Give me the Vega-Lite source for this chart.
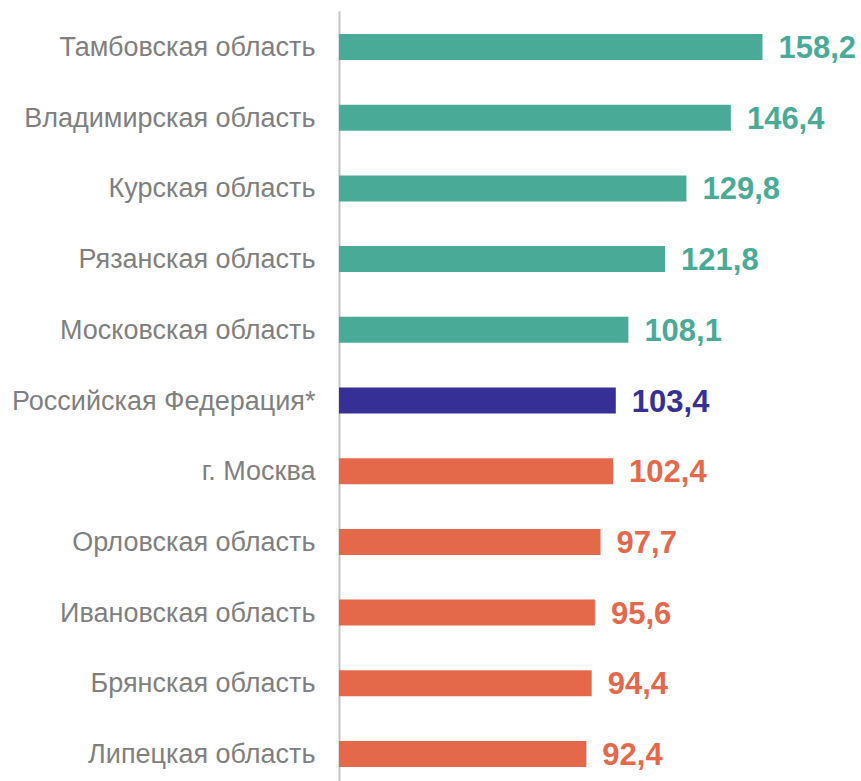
{
  "$schema": "https://vega.github.io/schema/vega-lite/v6.json",
  "autosize": "none",
  "padding": {"left": 339, "top": 11, "right": 0, "bottom": 0},
  "width": 522,
  "height": 779,
  "background": "white",
  "config": {"view": {"stroke": null}, "font": "Liberation Sans"},
  "data": {"values": [
    {"region": "Тамбовская область", "value": 158.2, "label": "158,2", "group": "up"},
    {"region": "Владимирская область", "value": 146.4, "label": "146,4", "group": "up"},
    {"region": "Курская область", "value": 129.8, "label": "129,8", "group": "up"},
    {"region": "Рязанская область", "value": 121.8, "label": "121,8", "group": "up"},
    {"region": "Московская область", "value": 108.1, "label": "108,1", "group": "up"},
    {"region": "Российская Федерация*", "value": 103.4, "label": "103,4", "group": "rf"},
    {"region": "г. Москва", "value": 102.4, "label": "102,4", "group": "down"},
    {"region": "Орловская область", "value": 97.7, "label": "97,7", "group": "down"},
    {"region": "Ивановская область", "value": 95.6, "label": "95,6", "group": "down"},
    {"region": "Брянская область", "value": 94.4, "label": "94,4", "group": "down"},
    {"region": "Липецкая область", "value": 92.4, "label": "92,4", "group": "down"}
  ]},
  "encoding": {
    "y": {
      "field": "region", "type": "nominal", "sort": null,
      "scale": {"paddingInner": 0.632, "paddingOuter": 0.325},
      "axis": {
        "title": null, "ticks": false, "domain": true, "domainColor": "#c4c4c4", "domainWidth": 2,
        "labelColor": "#7f7f7f", "labelFontSize": 27, "labelFont": "Liberation Sans",
        "labelPadding": 24, "labelLimit": 400, "labelOffset": 1
      }
    },
    "x": {
      "field": "value", "type": "quantitative",
      "scale": {"domain": [0, 195]},
      "axis": null
    },
    "color": {
      "field": "group", "type": "nominal",
      "scale": {"domain": ["up", "rf", "down"], "range": ["#49AB97", "#363096", "#E4684A"]},
      "legend": null
    }
  },
  "layer": [
    {"mark": {"type": "bar"}},
    {"mark": {"type": "text", "align": "left", "baseline": "middle", "dx": 16, "dy": 2, "fontSize": 31, "fontWeight": "bold", "font": "Liberation Sans"},
     "encoding": {"text": {"field": "label"}}}
  ]
}
